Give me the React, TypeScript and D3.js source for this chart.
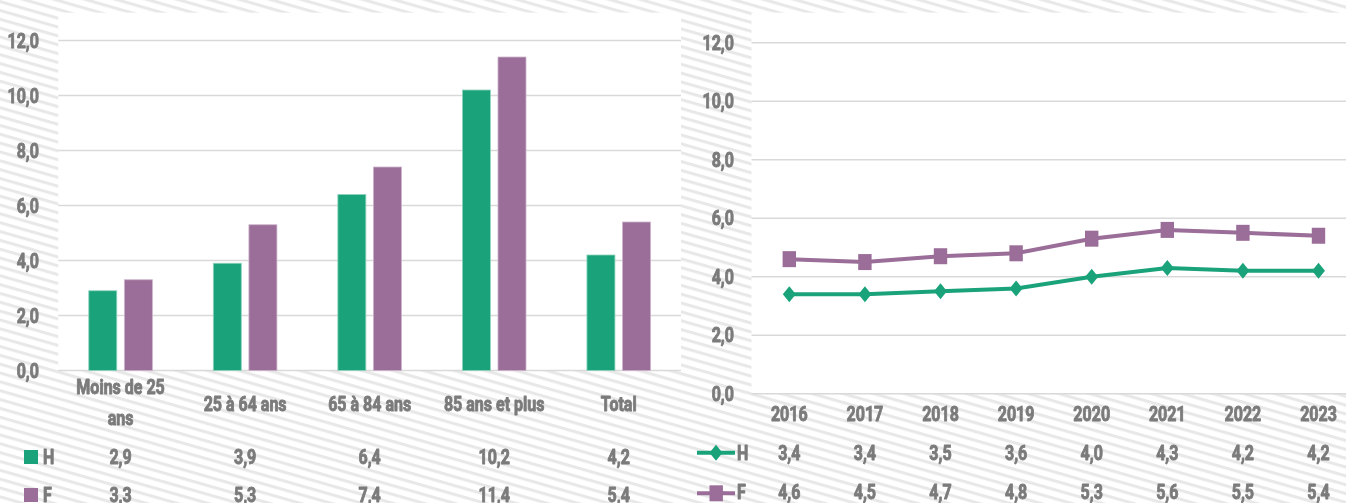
import React from 'react';
import * as d3 from 'd3';

// ---- data ----
const ageGroups = [['Moins de 25', 'ans'], ['25 à 64 ans'], ['65 à 84 ans'], ['85 ans et plus'], ['Total']];
const barH = [2.9, 3.9, 6.4, 10.2, 4.2];
const barF = [3.3, 5.3, 7.4, 11.4, 5.4];

const years = ['2016', '2017', '2018', '2019', '2020', '2021', '2022', '2023'];
const lineH = [3.4, 3.4, 3.5, 3.6, 4.0, 4.3, 4.2, 4.2];
const lineF = [4.6, 4.5, 4.7, 4.8, 5.3, 5.6, 5.5, 5.4];

const yTicks = [0, 2, 4, 6, 8, 10, 12];

const GREEN = '#1aa37a';
const PURPLE = '#9a6e98';
const TXT = '#7b7b7b';
const GRID = '#d9d9d9';
const FONT = 'Roboto, "DejaVu Sans", sans-serif';

const fmt = (v: number) => v.toFixed(1).replace('.', ',');

// condensed bold text: no narrow bold face here, so squeeze and thicken with a stroke
function T({ x, y, anchor = 'middle', dy, children }: { x: number; y: number; anchor?: string; dy?: string; children: React.ReactNode }) {
  return (
    <text transform={`translate(${x},${y}) scale(0.8,1)`} dy={dy} textAnchor={anchor}
      stroke={TXT} strokeWidth={0.9} strokeLinejoin="round"
      style={{ fontFamily: FONT, fontWeight: 700, fontSize: 20, fill: TXT }}>
      {children}
    </text>
  );
}

export default function App() {
  const W = 1346, H = 503;

  // left panel (bars)
  const xBand = d3.scaleBand<number>().domain(d3.range(ageGroups.length)).range([58.3, 681]);
  const yLeft = d3.scaleLinear().domain([0, 12]).range([370.5, 40.5]);
  const barW = 28, barGap = 7.6;

  // right panel (lines)
  const xYear = d3.scaleBand<string>().domain(years).range([751.5, 751.5 + 75.6 * years.length]);
  const yRight = d3.scaleLinear().domain([0, 12]).range([393.7, 42.7]);
  const cx = (y: string) => (xYear(y) as number) + xYear.bandwidth() / 2;

  const lineGen = d3.line<number>()
    .x((_, i) => cx(years[i]))
    .y(d => yRight(d));

  const diamond = (x: number, y: number) => `M${x},${y - 8} L${x + 6.5},${y} L${x},${y + 8} L${x - 6.5},${y} Z`;

  return (
    <svg width={W} height={H} style={{ position: 'fixed', left: 0, top: 0, display: 'block' }}>
      <defs>
        <pattern id="hatch" width="8.5" height="8.5" patternUnits="userSpaceOnUse" patternTransform="rotate(16)">
          <rect width="8.5" height="8.5" fill="#ffffff" />
          <rect width="8.5" height="3" fill="#e8e8e8" />
        </pattern>
      </defs>
      <rect width={W} height={H} fill="url(#hatch)" />

      {/* plot backgrounds */}
      <rect x={58.3} y={12.7} width={681 - 58.3} height={370.5 - 12.7} fill="#fff" />
      <rect x={751.5} y={12.7} width={W - 751.5} height={393.7 - 12.7} fill="#fff" />

      {/* ---------- LEFT: bar chart ---------- */}
      <g>
        {yTicks.map(t => (
          <g key={'lg' + t}>
            <line x1={58.3} x2={681} y1={yLeft(t)} y2={yLeft(t)} stroke={GRID} strokeWidth={1.5} />
            <T x={39} y={yLeft(t)} dy="0.35em" anchor="end">{fmt(t)}</T>
          </g>
        ))}
        {ageGroups.map((_, i) => {
          const c = (xBand(i) as number) + xBand.bandwidth() / 2;
          return (
            <g key={'bar' + i}>
              <rect x={c - barGap / 2 - barW} y={yLeft(barH[i])} width={barW} height={yLeft(0) - yLeft(barH[i])}
                fill={GREEN} stroke="#8fd3bd" strokeWidth={0.8} />
              <rect x={c + barGap / 2} y={yLeft(barF[i])} width={barW} height={yLeft(0) - yLeft(barF[i])}
                fill={PURPLE} stroke="#cdb4cb" strokeWidth={0.8} />
            </g>
          );
        })}
        {ageGroups.map((lab, i) => {
          const c = (xBand(i) as number) + xBand.bandwidth() / 2;
          return (
            <g key={'cat' + i}>
              {lab.length === 2 ? (
                <>
                  <T x={c} y={394.3}>{lab[0]}</T>
                  <T x={c} y={425}>{lab[1]}</T>
                </>
              ) : (
                <T x={c} y={410.7}>{lab[0]}</T>
              )}
              <T x={c} y={464}>{fmt(barH[i])}</T>
              <T x={c} y={502}>{fmt(barF[i])}</T>
            </g>
          );
        })}
        <rect x={24} y={450} width={14} height={14} fill={GREEN} />
        <T x={43} y={464} anchor="start">H</T>
        <rect x={24} y={488} width={14} height={14} fill={PURPLE} />
        <T x={43} y={502} anchor="start">F</T>
      </g>

      {/* ---------- RIGHT: line chart ---------- */}
      <g>
        {yTicks.map(t => (
          <g key={'rg' + t}>
            <line x1={751.5} x2={W} y1={yRight(t)} y2={yRight(t)} stroke={GRID} strokeWidth={1.5} />
            <T x={734} y={yRight(t)} dy="0.35em" anchor="end">{fmt(t)}</T>
          </g>
        ))}
        <path d={lineGen(lineF) || ''} fill="none" stroke={PURPLE} strokeWidth={4} />
        <path d={lineGen(lineH) || ''} fill="none" stroke={GREEN} strokeWidth={4} />
        {lineF.map((v, i) => (
          <rect key={'sq' + i} x={cx(years[i]) - 6.7} y={yRight(v) - 8} width={13.4} height={16} fill={PURPLE} />
        ))}
        {lineH.map((v, i) => (
          <path key={'dm' + i} d={diamond(cx(years[i]), yRight(v))} fill={GREEN} />
        ))}
        {years.map((yr, i) => (
          <g key={'yr' + yr}>
            <T x={cx(yr)} y={421}>{yr}</T>
            <T x={cx(yr)} y={460}>{fmt(lineH[i])}</T>
            <T x={cx(yr)} y={499}>{fmt(lineF[i])}</T>
          </g>
        ))}
        <line x1={697} x2={735} y1={452.7} y2={452.7} stroke={GREEN} strokeWidth={4} />
        <path d={diamond(716, 452.7)} fill={GREEN} />
        <T x={737} y={460} anchor="start">H</T>
        <line x1={697} x2={735} y1={493.3} y2={493.3} stroke={PURPLE} strokeWidth={4} />
        <rect x={709.5} y={485.3} width={13.4} height={16} fill={PURPLE} />
        <T x={737} y={499} anchor="start">F</T>
      </g>
    </svg>
  );
}
